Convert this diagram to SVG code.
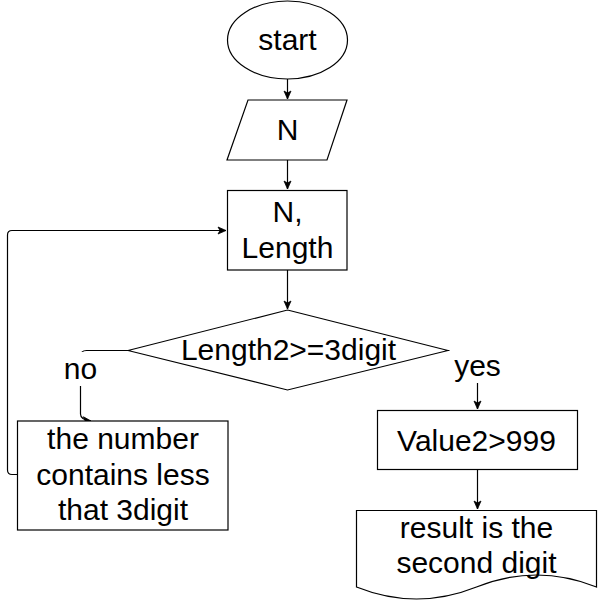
<svg xmlns="http://www.w3.org/2000/svg" width="598" height="611" viewBox="0 0 598 611">
<style>
.s{fill:#fff;stroke:#000;stroke-width:1.2}
.c{fill:none;stroke:#000;stroke-width:1.2}
text{font-family:"Liberation Sans",Arial,sans-serif;font-size:30px;fill:#000;text-anchor:middle}
</style>
<defs>
<marker id="a" markerUnits="userSpaceOnUse" markerWidth="10" markerHeight="10" viewBox="0 0 10 10" refX="9" refY="5" orient="auto">
<path d="M1,1.5 L9,5 L1,8.5 L3,5 Z" fill="#000" stroke="#000" stroke-width="0.8"/>
</marker>
</defs>
<rect width="598" height="611" fill="#fff"/>
<g id="connectors">
<path class="c" d="M287.5,79 V99" marker-end="url(#a)"/>
<path class="c" d="M287.5,160 V189" marker-end="url(#a)"/>
<path class="c" d="M287.5,270 V309" marker-end="url(#a)"/>
<path class="c" d="M128,350.5 H86.5 Q80.5,350.5 80.5,356.5 V414 Q80.5,420 91,421" marker-end="url(#a)"/>
<path class="c" d="M448,350.5 H477.5 V409" marker-end="url(#a)"/>
<path class="c" d="M477.5,470 V509" marker-end="url(#a)"/>
<path class="c" d="M17,474.5 H12 Q7.5,474.5 7.5,470 V235 Q7.5,230.5 12,230.5 H226" marker-end="url(#a)"/>
<rect x="60" y="352" width="41" height="34" fill="#fff"/>
<text x="80.5" y="379">no</text>
<rect x="449.5" y="345" width="55" height="38" fill="#fff"/>
<text x="477.5" y="376">yes</text>
</g>
<g id="start">
<ellipse class="s" cx="287.5" cy="40" rx="60" ry="39"/>
<text x="287.5" y="50">start</text>
</g>
<g id="inputN">
<path class="s" d="M248,100 H347 L327,160 H227 Z"/>
<text x="287.5" y="140">N</text>
</g>
<g id="nLength">
<rect class="s" x="227.5" y="190.5" width="119.5" height="79.5"/>
<text x="287.5" y="222">N,</text>
<text x="287.5" y="258">Length</text>
</g>
<g id="decision">
<path class="s" d="M287.5,310 L448,350.5 L287.5,390 L128,350.5 Z"/>
<text x="288.5" y="360">Length2&gt;=3digit</text>
</g>
<g id="lessBox">
<rect class="s" x="17.5" y="421" width="210.5" height="109"/>
<text x="123" y="449">the number</text>
<text x="123" y="485">contains less</text>
<text x="123" y="520">that 3digit</text>
</g>
<g id="value">
<rect class="s" x="377.5" y="410.5" width="200" height="59"/>
<text x="476.5" y="451">Value2&gt;999</text>
</g>
<g id="result">
<path class="s" d="M356.5,510.5 H596.5 V587 Q536.5,563 476.5,587 Q416.5,611 356.5,587 Z"/>
<text x="476.5" y="538">result is the</text>
<text x="476.5" y="573">second digit</text>
</g>
</svg>
